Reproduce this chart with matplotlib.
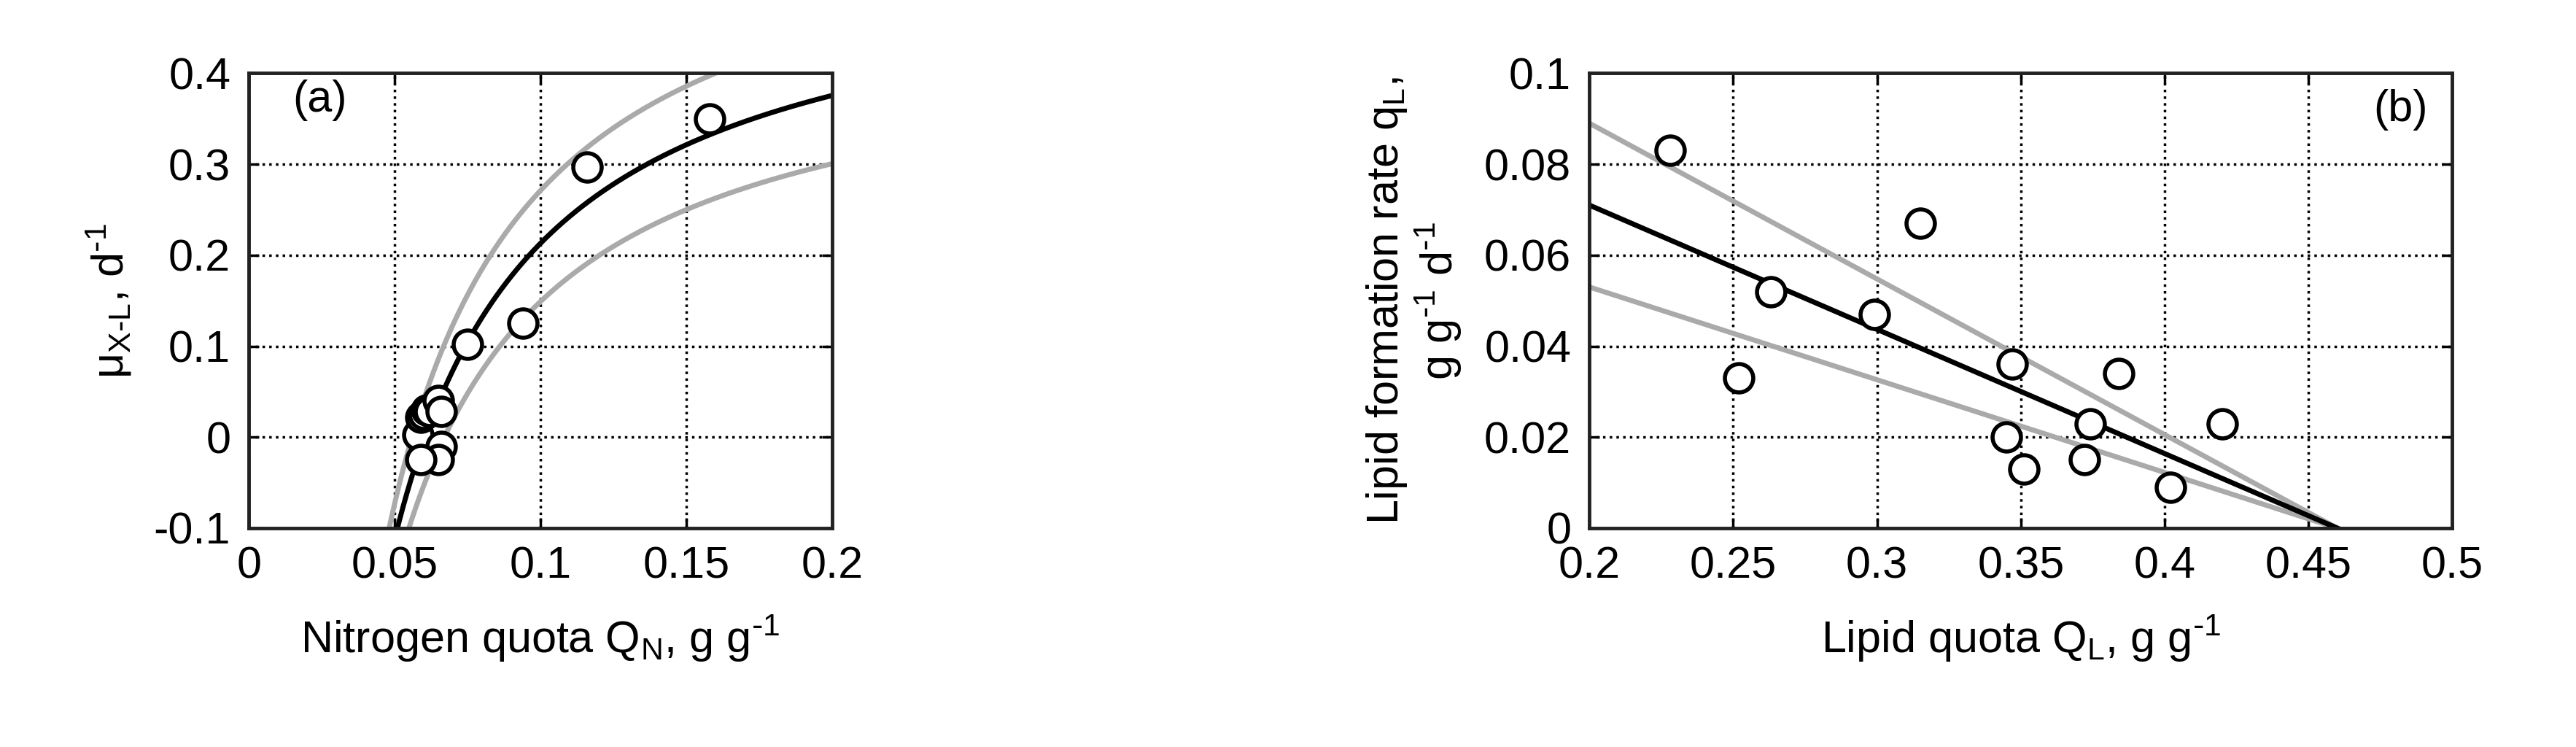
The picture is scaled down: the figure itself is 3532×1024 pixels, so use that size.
import numpy as np
from matplotlib import pyplot as plt

plt.rcParams['font.family'] = ['Liberation Sans Narrow', 'Liberation Sans', 'DejaVu Sans']

# panel (a) data
qn = [0.058, 0.059, 0.060, 0.061, 0.062, 0.065, 0.066, 0.066, 0.065, 0.059, 0.075, 0.094, 0.116, 0.158]
mu = [0.003, 0.022, 0.025, 0.030, 0.028, 0.040, 0.028, -0.010, -0.025, -0.025, 0.102, 0.125, 0.297, 0.350]
# fitted curves mu = a - b/Q (best, upper, lower)
fit_a = [(0.538, 0.0325), (0.615, 0.0344), (0.452, 0.0303)]

# panel (b) data
ql = [0.228, 0.252, 0.263, 0.299, 0.315, 0.345, 0.347, 0.351, 0.372, 0.374, 0.384, 0.402, 0.420]
rate = [0.083, 0.033, 0.052, 0.047, 0.067, 0.020, 0.036, 0.013, 0.015, 0.023, 0.034, 0.009, 0.023]
# fitted lines through (Q0, 0), value at 0.2 (best, upper, lower)
q0 = 0.46
fit_b = [0.071, 0.089, 0.053]

fs = 44
fig = plt.figure(figsize=(35.32, 10.24), dpi=100)
ax1 = fig.add_axes([0.0966, 0.293, 0.2264, 0.609])
ax2 = fig.add_axes([0.617, 0.293, 0.335, 0.609])

grey = '#aaaaaa'
sup = '$^\\mathregular{\\text{-}1}$'
q = np.linspace(0.03, 0.2, 400)
for (a, b), col in zip(fit_a, ['black', grey, grey]):
    ax1.plot(q, a - b / q, color=col, lw=5, zorder=2 if col == 'black' else 1)
ax1.plot(qn, mu, 'o', ms=28, mfc='white', mec='black', mew=4, zorder=3)
ax1.set_xlim(0, 0.2)
ax1.set_ylim(-0.1, 0.4)
ax1.set_xticks([0, 0.05, 0.1, 0.15, 0.2])
ax1.set_xticklabels(['0', '0.05', '0.1', '0.15', '0.2'])
ax1.set_yticks([-0.1, 0, 0.1, 0.2, 0.3, 0.4])
ax1.set_yticklabels(['-0.1', '0', '0.1', '0.2', '0.3', '0.4'])
ax1.set_xlabel('Nitrogen quota Q$_\\mathregular{N}$, g g' + sup, fontsize=fs, labelpad=25)
ax1.set_ylabel('μ$_\\mathregular{X\\text{-}L}$, d' + sup, fontsize=fs, labelpad=20)
ax1.text(0.015, 0.37, '(a)', fontsize=fs, va='center')

x = np.array([0.2, q0])
for v, col in zip(fit_b, ['black', grey, grey]):
    ax2.plot(x, v * (q0 - x) / (q0 - 0.2), color=col, lw=5, zorder=2 if col == 'black' else 1)
ax2.plot(ql, rate, 'o', ms=28, mfc='white', mec='black', mew=4, zorder=3)
ax2.set_xlim(0.2, 0.5)
ax2.set_ylim(0, 0.1)
ax2.set_xticks([0.2, 0.25, 0.3, 0.35, 0.4, 0.45, 0.5])
ax2.set_xticklabels(['0.2', '0.25', '0.3', '0.35', '0.4', '0.45', '0.5'])
ax2.set_yticks([0, 0.02, 0.04, 0.06, 0.08, 0.1])
ax2.set_yticklabels(['0', '0.02', '0.04', '0.06', '0.08', '0.1'])
ax2.set_xlabel('Lipid quota Q$_\\mathregular{L}$, g g' + sup, fontsize=fs, labelpad=25)
ax2.set_ylabel('Lipid formation rate q$_\\mathregular{L}$,\ng g' + sup + ' d' + sup,
               fontsize=fs, labelpad=20, linespacing=1.1)
ax2.text(0.482, 0.092, '(b)', fontsize=fs, va='center', ha='center')

for ax in (ax1, ax2):
    ax.grid(True, color='black', ls=':', lw=2.5)
    ax.set_axisbelow(True)
    ax.tick_params(labelsize=fs, direction='in', length=10, width=2.5, pad=18, top=True, right=True)
    for s in ax.spines.values():
        s.set_linewidth(3.5)
        s.set_color('#222222')

fig.savefig('out.png', dpi=100)
